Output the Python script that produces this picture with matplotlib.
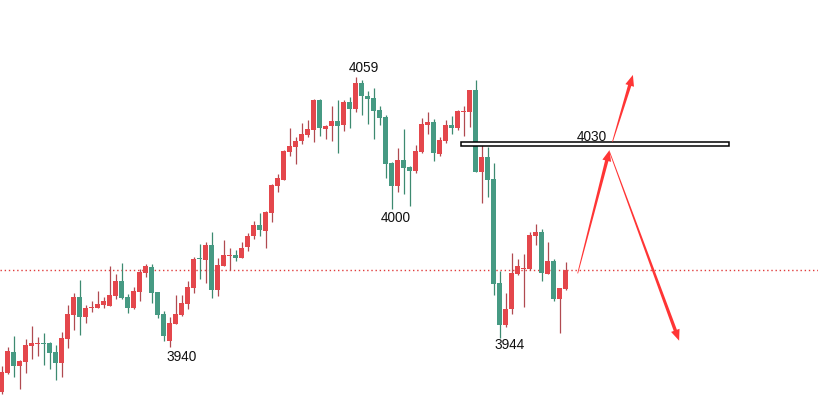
import numpy as np
import matplotlib
matplotlib.use("Agg")
from matplotlib import pyplot as plt
from matplotlib.patches import Polygon, Rectangle

# candle data (open, high, low, close)
opens = [3919.1, 3927.3, 3936.8, 3930.7, 3932.4, 3939.6, 3940.5, 3940.8, 3940.8, 3936.8,
         3932.0, 3942.7, 3953.2, 3961.2, 3952.4, 3956.3, 3956.4, 3957.8, 3957.3, 3961.8,
         3968.3, 3961.2, 3956.2, 3963.6, 3972.0, 3974.5, 3963.4, 3953.6, 3941.8, 3949.3,
         3953.2, 3958.2, 3965.3, 3978.5, 3977.8, 3984.3, 3964.5, 3975.1, 3979.4, 3979.9,
         3978.7, 3983.6, 3988.5, 3993.2, 3990.7, 3998.7, 4010.7, 4013.3, 4025.8, 4028.0,
         4030.5, 4033.2, 4035.4, 4048.8, 4035.9, 4037.2, 4039.4, 4037.6, 4047.9, 4044.8,
         4056.3, 4050.5, 4049.6, 4044.3, 4041.2, 4020.8, 4010.7, 4022.1, 4019.0, 4017.3,
         4025.8, 4037.8, 4039.0, 4024.9, 4030.7, 4037.6, 4036.4, 4043.6, 4043.6, 4053.2,
         4016.9, 4023.3, 4013.6, 3967.4, 3948.9, 3956.0, 3971.6, 3973.8, 3973.6, 3988.3,
         3990.1, 3971.6, 3977.2, 3960.4, 3964.9]
highs = [3930.5, 3938.8, 3943.9, 3933.2, 3942.5, 3948.3, 3943.4, 3945.2, 3941.2, 3939.9,
         3945.6, 3957.6, 3963.0, 3968.8, 3957.6, 3959.4, 3963.9, 3961.1, 3975.0, 3971.4,
         3976.5, 3962.5, 3965.7, 3973.6, 3976.0, 3976.0, 3963.4, 3955.0, 3952.3, 3962.2,
         3962.2, 3968.3, 3979.1, 3984.8, 3985.6, 3990.1, 3978.5, 3986.5, 3983.0, 3982.2,
         3985.6, 3989.6, 3995.1, 3998.7, 3999.4, 4011.4, 4015.9, 4026.5, 4036.3, 4032.3,
         4038.5, 4039.9, 4049.2, 4049.2, 4037.6, 4046.1, 4048.8, 4048.8, 4050.1, 4059.0,
         4057.6, 4052.8, 4054.1, 4046.1, 4042.1, 4021.2, 4027.4, 4035.9, 4019.4, 4028.8,
         4040.8, 4043.4, 4040.3, 4032.3, 4039.9, 4041.7, 4044.3, 4046.1, 4053.2, 4057.6,
         4028.6, 4028.0, 4020.8, 3972.9, 3963.1, 3980.8, 3978.1, 3980.3, 3990.1, 3993.6,
         3991.4, 3985.6, 3978.1, 3965.3, 3976.8]
lows = [3918.1, 3926.9, 3925.8, 3920.4, 3927.6, 3933.8, 3935.0, 3931.1, 3929.3, 3924.4,
        3925.8, 3938.7, 3946.7, 3944.5, 3949.8, 3954.7, 3956.2, 3956.2, 3957.3, 3960.3,
        3960.3, 3954.2, 3955.7, 3959.6, 3970.2, 3958.7, 3952.0, 3941.8, 3939.1, 3949.1,
        3952.9, 3956.0, 3963.1, 3969.3, 3967.6, 3960.6, 3961.8, 3975.0, 3973.2, 3977.3,
        3978.5, 3981.8, 3987.1, 3988.5, 3983.1, 3994.7, 4008.0, 4013.2, 4023.9, 4020.3,
        4029.3, 4032.5, 4030.2, 4032.9, 4031.6, 4030.7, 4025.3, 4035.0, 4036.3, 4043.4,
        4042.1, 4038.1, 4031.4, 4037.6, 4014.1, 4000.4, 4008.0, 4007.1, 4001.8, 4016.4,
        4025.3, 4033.8, 4021.8, 4024.0, 4029.8, 4033.8, 4035.4, 4032.9, 4036.9, 4016.9,
        4003.1, 4005.8, 3962.2, 3943.1, 3948.0, 3953.8, 3971.1, 3956.9, 3973.2, 3984.4,
        3968.4, 3971.6, 3959.6, 3945.3, 3964.5]
closes = [3927.7, 3937.2, 3930.7, 3932.8, 3939.9, 3940.8, 3940.8, 3940.5, 3936.4, 3932.0,
          3943.0, 3953.6, 3961.2, 3952.4, 3956.3, 3956.8, 3958.1, 3959.4, 3962.1, 3968.3,
          3960.9, 3956.4, 3963.9, 3972.3, 3975.0, 3963.1, 3953.3, 3944.0, 3949.6, 3953.6,
          3958.5, 3965.7, 3978.1, 3978.2, 3984.3, 3964.5, 3975.4, 3979.9, 3979.9, 3978.7,
          3983.0, 3988.3, 3993.2, 3991.0, 3999.0, 4011.0, 4014.1, 4026.1, 4028.3, 4030.5,
          4033.6, 4035.9, 4048.8, 4036.4, 4037.2, 4039.4, 4037.2, 4047.9, 4044.8, 4056.3,
          4050.5, 4049.2, 4043.9, 4040.9, 4020.4, 4010.7, 4022.1, 4018.7, 4017.3, 4026.1,
          4038.1, 4039.0, 4025.3, 4031.0, 4037.6, 4036.4, 4043.9, 4043.9, 4053.2, 4016.9,
          4023.3, 4013.3, 3967.1, 3948.9, 3956.0, 3971.9, 3975.0, 3974.1, 3988.8, 3990.1,
          3971.9, 3977.2, 3960.4, 3965.3, 3973.2]

last_price = 3973.2
zone_top, zone_bottom = 4030.0, 4028.2
zone_start, zone_end = 76.6, 121.3

# price labels: (x index, price, text)
labels = [(60.3, 4063.2, "4059"), (65.7, 3996.3, "4000"),
          (30.0, 3934.4, "3940"), (84.7, 3939.7, "3944"), (98.4, 4032.3, "4030")]

# projected moves: (x0, p0, x1, p1)
arrows = [(96.0, 3971.7, 101.3, 4026.5),
          (101.8, 4030.2, 105.2, 4059.9),
          (101.3, 4025.8, 112.9, 3941.8)]

up_color = "#e4474c"
down_color = "#469a83"
up_wick = "#b04a50"
down_wick = "#3d8a70"
arrow_color = "#ff3535"

fig = plt.figure(figsize=(8.18, 4.19), dpi=100)
ax = fig.add_axes([0, 0, 1, 1])
ax.axis("off")
ax.set_xlim(-0.283, 136.05)
ax.set_ylim(3907.0, 4093.2)

x = np.arange(len(opens))
o = np.array(opens)
c = np.array(closes)
h = np.array(highs)
l = np.array(lows)
up = c >= o

ax.axhline(last_price, color="#e03c3c", linestyle=(0, (1, 2)), linewidth=1.0, zorder=1)

for i in range(len(x)):
    wc = up_wick if up[i] else down_wick
    bc = up_color if up[i] else down_color
    ax.vlines(x[i], l[i], h[i], color=wc, linewidth=0.9, zorder=2)
    bottom = min(o[i], c[i])
    height = max(abs(c[i] - o[i]), 0.45)
    ax.bar(x[i], height, bottom=bottom, width=0.75, color=bc, linewidth=0, zorder=3)

ax.add_patch(Rectangle((zone_start, zone_bottom), zone_end - zone_start, zone_top - zone_bottom,
                       facecolor="white", edgecolor="black", linewidth=1.1, zorder=4))

for lx, ly, txt in labels:
    ax.text(lx, ly, txt, ha="center", va="center", fontsize=9.8,
            family="Liberation Sans", color="#111111", zorder=5)

# tapered arrows, built in pixel space
fig.canvas.draw()
inv = ax.transData.inverted()
for x0, p0, x1, p1 in arrows:
    a = ax.transData.transform((x0, p0))
    b = ax.transData.transform((x1, p1))
    d = b - a
    L = np.hypot(*d)
    u = d / L
    n = np.array([-u[1], u[0]])
    head_len, head_w = 11.0, 4.5
    w0, w1 = 0.4, 1.7
    neck = b - u * head_len
    pts = [a + n * w0, neck + n * w1, neck + n * head_w, b,
           neck - n * head_w, neck - n * w1, a - n * w0]
    pts = inv.transform(np.array(pts))
    ax.add_patch(Polygon(pts, closed=True, facecolor=arrow_color, edgecolor="none", zorder=6))

fig.savefig("out.png", dpi=100)
